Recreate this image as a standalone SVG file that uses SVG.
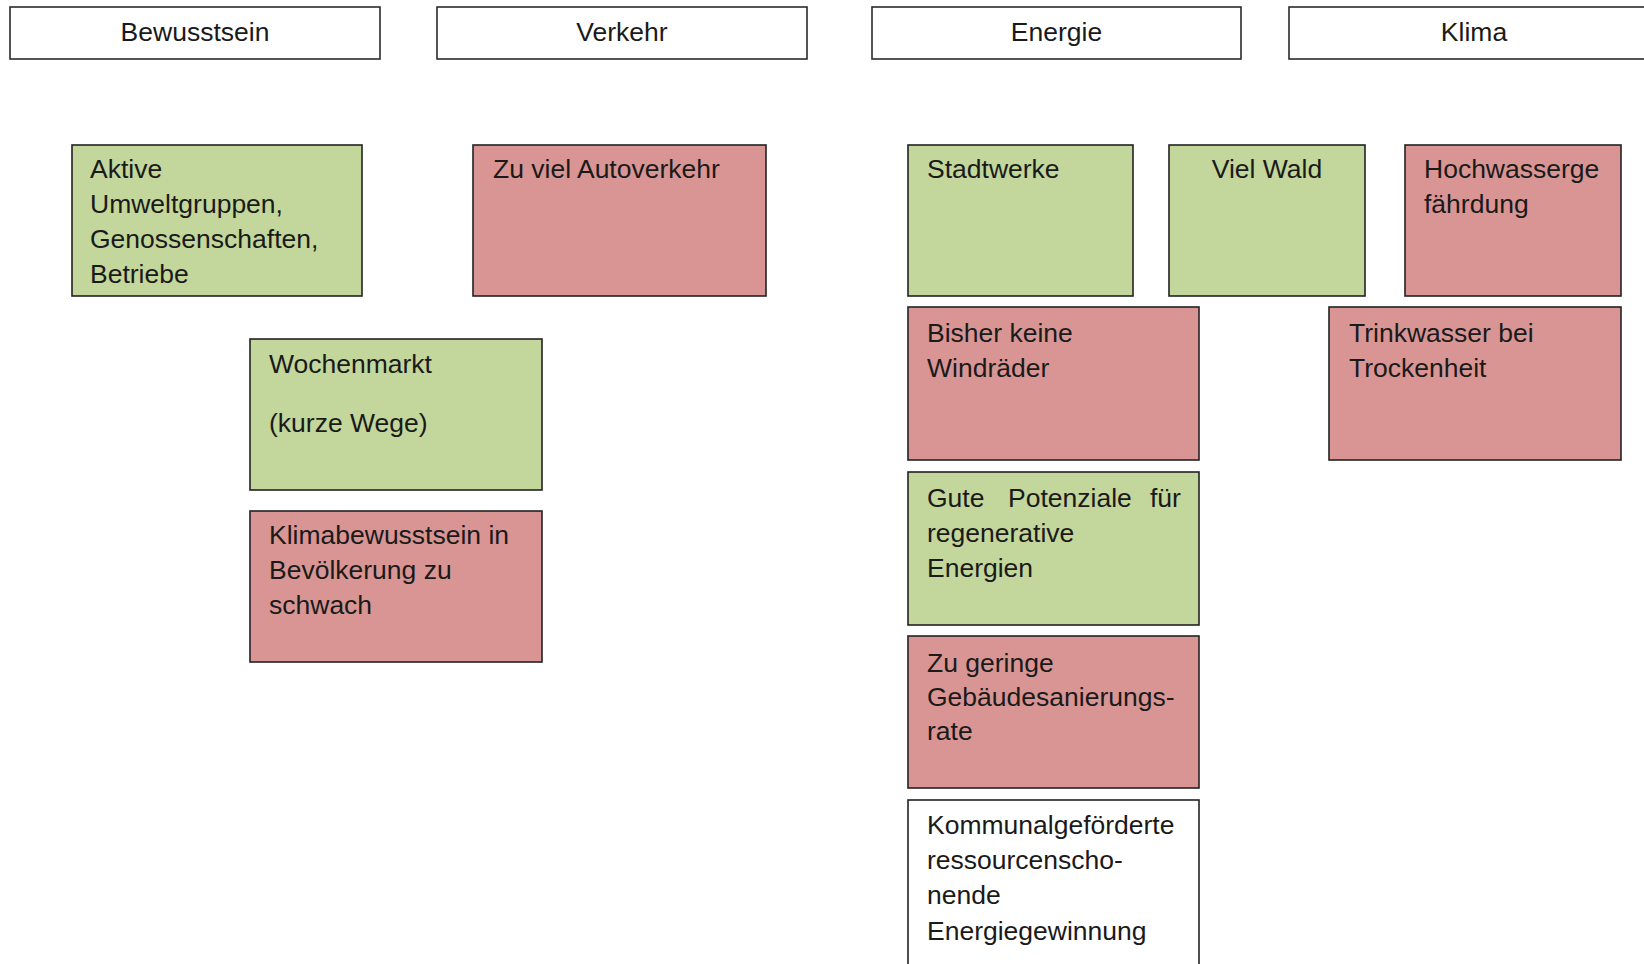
<svg xmlns="http://www.w3.org/2000/svg" width="1644" height="964" viewBox="0 0 1644 964">
  <style>
    .hdr { fill: #ffffff; stroke: #2b2b2b; stroke-width: 1.6; }
    .pos { fill: #C3D69B; stroke: #222222; stroke-width: 1.6; }
    .neg { fill: #D99594; stroke: #222222; stroke-width: 1.6; }
    .neu { fill: #ffffff; stroke: #222222; stroke-width: 1.6; }
    text { font-family: "Liberation Sans", Arial, sans-serif; font-size: 26.5px; fill: #1a1a1a; }
    .c { text-anchor: middle; }
  </style>
  <rect width="1644" height="964" fill="#ffffff"/>

  <!-- column headers -->
  <g id="hdr-bewusstsein">
    <rect class="hdr" x="10" y="7" width="370" height="52"/>
    <text class="c" x="195" y="41">Bewusstsein</text>
  </g>
  <g id="hdr-verkehr">
    <rect class="hdr" x="437" y="7" width="370" height="52"/>
    <text class="c" x="622" y="41">Verkehr</text>
  </g>
  <g id="hdr-energie">
    <rect class="hdr" x="872" y="7" width="369" height="52"/>
    <text class="c" x="1056.5" y="41">Energie</text>
  </g>
  <g id="hdr-klima">
    <rect class="hdr" x="1289" y="7" width="370" height="52"/>
    <text class="c" x="1474" y="41">Klima</text>
  </g>

  <!-- Bewusstsein -->
  <g id="aktive">
    <rect class="pos" x="72" y="145" width="290" height="151"/>
    <text x="90" y="178">Aktive</text>
    <text x="90" y="213">Umweltgruppen,</text>
    <text x="90" y="248">Genossenschaften,</text>
    <text x="90" y="283">Betriebe</text>
  </g>
  <g id="wochenmarkt">
    <rect class="pos" x="250" y="339" width="292" height="151"/>
    <text x="269" y="373">Wochenmarkt</text>
    <text x="269" y="432">(kurze Wege)</text>
  </g>
  <g id="klimabewusstsein">
    <rect class="neg" x="250" y="511" width="292" height="151"/>
    <text x="269" y="544">Klimabewusstsein in</text>
    <text x="269" y="579">Bevölkerung zu</text>
    <text x="269" y="614">schwach</text>
  </g>

  <!-- Verkehr -->
  <g id="autoverkehr">
    <rect class="neg" x="473" y="145" width="293" height="151"/>
    <text x="493" y="178">Zu viel Autoverkehr</text>
  </g>

  <!-- Energie -->
  <g id="stadtwerke">
    <rect class="pos" x="908" y="145" width="225" height="151"/>
    <text x="927" y="178">Stadtwerke</text>
  </g>
  <g id="viel-wald">
    <rect class="pos" x="1169" y="145" width="196" height="151"/>
    <text class="c" x="1267" y="178">Viel Wald</text>
  </g>
  <g id="windraeder">
    <rect class="neg" x="908" y="307" width="291" height="153"/>
    <text x="927" y="342">Bisher keine</text>
    <text x="927" y="377">Windräder</text>
  </g>
  <g id="potenziale">
    <rect class="pos" x="908" y="472" width="291" height="153"/>
    <text y="507"><tspan x="927">Gute</tspan><tspan x="1008">Potenziale</tspan><tspan x="1150">für</tspan></text>
    <text x="927" y="542">regenerative</text>
    <text x="927" y="577">Energien</text>
  </g>
  <g id="sanierungsrate">
    <rect class="neg" x="908" y="636" width="291" height="152"/>
    <text x="927" y="672">Zu geringe</text>
    <text x="927" y="706">Gebäudesanierungs-</text>
    <text x="927" y="740">rate</text>
  </g>
  <g id="energiegewinnung">
    <rect class="neu" x="908" y="800" width="291" height="200"/>
    <text x="927" y="834">Kommunalgeförderte</text>
    <text x="927" y="869">ressourcenscho-</text>
    <text x="927" y="904">nende</text>
    <text x="927" y="940">Energiegewinnung</text>
  </g>

  <!-- Klima -->
  <g id="hochwasser">
    <rect class="neg" x="1405" y="145" width="216" height="151"/>
    <text x="1424" y="178">Hochwasserge</text>
    <text x="1424" y="213">fährdung</text>
  </g>
  <g id="trinkwasser">
    <rect class="neg" x="1329" y="307" width="292" height="153"/>
    <text x="1349" y="342">Trinkwasser bei</text>
    <text x="1349" y="377">Trockenheit</text>
  </g>

  <!-- no connectors in this chart -->
  <g id="connectors"/>
</svg>
